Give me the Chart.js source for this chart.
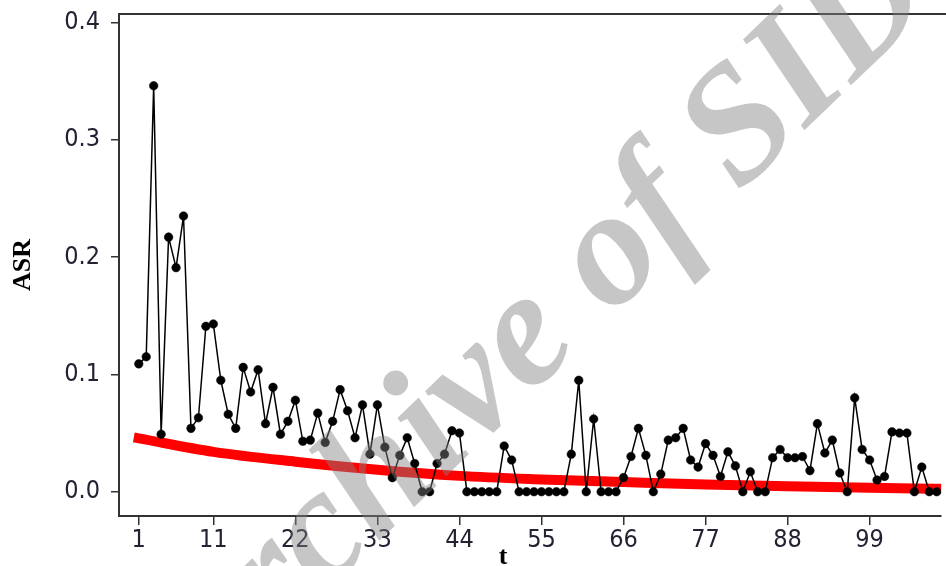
<!DOCTYPE html>
<html><head><meta charset="utf-8">
<script src="https://cdn.jsdelivr.net/npm/chart.js@4.4.1/dist/chart.umd.min.js"></script>
<style>html,body{margin:0;padding:0;background:#fff;}#wrap{width:946px;height:566px;position:relative;}</style>
</head><body><div id="wrap"><canvas id="c" width="946" height="566"></canvas></div>
<script>
// Observed ASR per period t = 1..108
const asrValues = [
  0.109, 0.115, 0.346, 0.049, 0.217, 0.191, 0.235, 0.054, 0.063, 0.141,
  0.143, 0.095, 0.066, 0.054, 0.106, 0.085, 0.104, 0.058, 0.089, 0.049,
  0.060, 0.078, 0.043, 0.044, 0.067, 0.042, 0.060, 0.087, 0.069, 0.046,
  0.074, 0.032, 0.074, 0.038, 0.012, 0.031, 0.046, 0.024, 0.000, 0.000,
  0.024, 0.032, 0.052, 0.050, 0.000, 0.000, 0.000, 0.000, 0.000, 0.039,
  0.027, 0.000, 0.000, 0.000, 0.000, 0.000, 0.000, 0.000, 0.032, 0.095,
  0.000, 0.062, 0.000, 0.000, 0.000, 0.012, 0.030, 0.054, 0.031, 0.000,
  0.015, 0.044, 0.046, 0.054, 0.027, 0.021, 0.041, 0.031, 0.013, 0.034,
  0.022, 0.000, 0.017, 0.000, 0.000, 0.029, 0.036, 0.029, 0.029, 0.030,
  0.018, 0.058, 0.033, 0.044, 0.016, 0.000, 0.080, 0.036, 0.027, 0.010,
  0.013, 0.051, 0.050, 0.050, 0.000, 0.021, 0.000, 0.000
];
// Fitted (red) curve read at sample periods
const fitT = [1, 11, 22, 33, 44, 55, 66, 77, 88, 99, 108];
const fitValues = [0.0455, 0.0340, 0.0256, 0.0187, 0.0135, 0.0105, 0.0083, 0.0062, 0.0046, 0.0033, 0.0026];
const xTicks = [1, 11, 22, 33, 44, 55, 66, 77, 88, 99];
const yTicks = [0, 0.1, 0.2, 0.3, 0.4];
const tValues = asrValues.map((_, i) => i + 1);

const tickFont = {family: '"DejaVu Sans Condensed", "DejaVu Sans", Verdana, sans-serif', size: 25, lineHeight: 1};
const tickColor = '#222233';
const axisColor = '#333';

const framePlugin = {
  id: 'frameAndMarks',
  afterDraw(chart) {
    const {ctx, chartArea} = chart;
    ctx.save();
    ctx.strokeStyle = axisColor;
    ctx.lineWidth = 2;
    ctx.beginPath();
    ctx.moveTo(chartArea.left, chartArea.top);
    ctx.lineTo(chart.width, chartArea.top);
    ctx.stroke();
    // x axis title
    ctx.fillStyle = '#000';
    ctx.font = 'bold 26px "Liberation Serif", "Times New Roman", serif';
    ctx.textAlign = 'center';
    ctx.textBaseline = 'alphabetic';
    ctx.fillText('t', 503, 564);
    // watermark
    ctx.translate(199, 715);
    ctx.rotate(-44 * Math.PI / 180);
    ctx.font = 'italic bold 165px "Liberation Serif", "Times New Roman", serif';
    ctx.fillStyle = 'rgba(128,128,128,0.45)';
    ctx.textAlign = 'left';
    ctx.fillText('Archive of SID', 0, 0);
    ctx.restore();
  }
};

new Chart(document.getElementById('c'), {
  type: 'scatter',
  data: {
    datasets: [
      {
        label: 'ASR',
        data: tValues.map((t, i) => ({x: t, y: asrValues[i]})),
        showLine: true,
        borderColor: '#000',
        borderWidth: 1.5,
        backgroundColor: '#000',
        pointRadius: 4.3,
        pointBorderWidth: 0.5,
        pointBackgroundColor: '#000',
        pointBorderColor: '#000',
        tension: 0
      },
      {
        label: 'Fit',
        data: fitT.map((t, i) => ({x: t, y: fitValues[i]})),
        showLine: true,
        borderColor: '#ff0000',
        borderWidth: 10,
        borderCapStyle: 'square',
        pointRadius: 0,
        cubicInterpolationMode: 'monotone'
      }
    ]
  },
  options: {
    responsive: false,
    animation: false,
    devicePixelRatio: 1,
    layout: {padding: {top: 14, left: 0, right: 0, bottom: 0}},
    plugins: {legend: {display: false}, tooltip: {enabled: false}},
    scales: {
      x: {
        type: 'linear',
        min: -1.65,
        max: 108.6,
        afterBuildTicks: s => { s.ticks = xTicks.map(v => ({value: v})); },
        afterFit: s => { s.height = 50; s.paddingLeft = 0; s.paddingRight = 0; },
        ticks: {font: tickFont, color: tickColor, padding: 3, maxRotation: 0, autoSkip: false, callback: v => String(v)},
        grid: {drawOnChartArea: false, drawTicks: true, tickLength: 9, color: axisColor, lineWidth: 1.5},
        border: {display: true, color: axisColor, width: 2}
      },
      y: {
        min: -0.0207,
        max: 0.4072,
        afterBuildTicks: s => { s.ticks = yTicks.map(v => ({value: v})); },
        afterFit: s => { s.width = 119; s.paddingTop = 0; s.paddingBottom = 0; },
        ticks: {font: tickFont, color: tickColor, padding: 11, callback: v => Number(v).toFixed(1)},
        grid: {drawOnChartArea: false, drawTicks: true, tickLength: 8, color: axisColor, lineWidth: 1.5},
        border: {display: true, color: axisColor, width: 2},
        title: {display: true, text: 'ASR', color: '#000', padding: {top: 8, bottom: 0},
          font: {family: '"Liberation Serif", "Times New Roman", serif', size: 26, weight: 'bold', lineHeight: 1.2}}
      }
    }
  },
  plugins: [framePlugin]
});
</script>
</body></html>
